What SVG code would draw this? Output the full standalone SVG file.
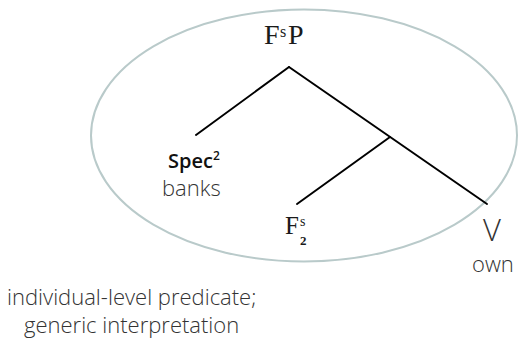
<svg xmlns="http://www.w3.org/2000/svg" width="519" height="343" viewBox="0 0 519 343">
<style>
.serif{font-family:"Liberation Serif","Times New Roman",serif;fill:#1a1a1a}
.sans{font-family:"Open Sans","Noto Sans",sans-serif;fill:#333}
.edge{stroke:#000;stroke-width:2;fill:none;stroke-linecap:round}
</style>
<rect width="519" height="343" fill="#fff"/>
<ellipse cx="304" cy="135.5" rx="213" ry="126" fill="none" stroke="#b9caca" stroke-width="2"/>
<g id="connectors">
<line class="edge" x1="289" y1="67" x2="196" y2="135"/>
<line class="edge" x1="289" y1="67" x2="487" y2="204"/>
<line class="edge" x1="390" y1="137" x2="297" y2="204"/>
</g>
<g id="node-FsP">
<text class="serif" x="264" y="44" font-size="28">F</text>
<text class="serif" x="280" y="37" font-size="16">s</text>
<text class="serif" x="288" y="44" font-size="28">P</text>
</g>
<g id="node-spec">
<text class="sans" x="168" y="168" font-size="20" font-weight="600" style="fill:#111">Spec<tspan font-size="12" dy="-8">2</tspan></text>
<text class="sans" x="162" y="196" font-size="22" font-weight="300">banks</text>
</g>
<g id="node-F2s">
<text class="serif" x="285" y="234" font-size="25">F</text>
<text class="serif" x="300" y="226" font-size="14">s</text>
<text class="serif" x="300" y="245" font-size="13" font-weight="bold">2</text>
</g>
<g id="node-V">
<text class="sans" x="483" y="241" font-size="31" font-weight="300">V</text>
<text class="sans" x="472" y="272" font-size="22" font-weight="300">own</text>
</g>
<g id="caption">
<text class="sans" x="7" y="305" font-size="22" font-weight="300">individual-level predicate;</text>
<text class="sans" x="24" y="333" font-size="22" font-weight="300">generic interpretation</text>
</g>
</svg>
